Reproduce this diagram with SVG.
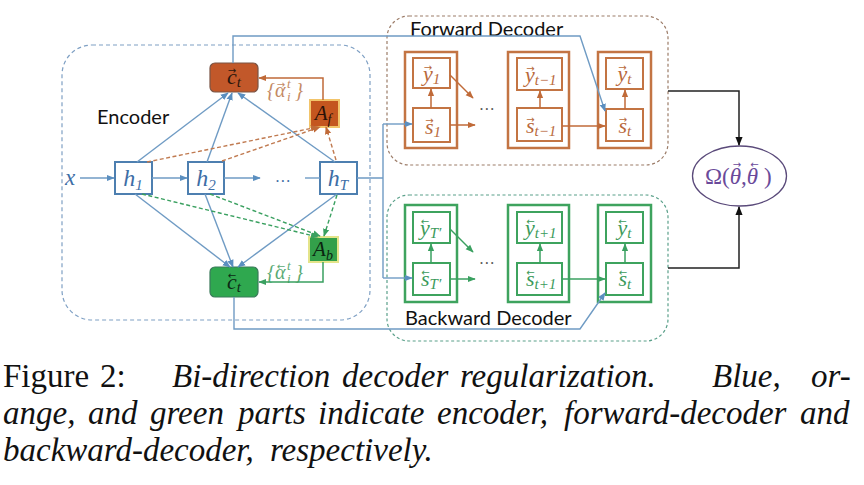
<svg xmlns="http://www.w3.org/2000/svg" width="864" height="485" viewBox="0 0 864 485">
<defs>
<style>
.m{font-family:"Liberation Serif","DejaVu Serif",serif;font-style:italic}
.up{font-style:normal}
.va{font-family:"DejaVu Sans",sans-serif;font-size:10px;text-anchor:middle;font-style:normal}
.lbl{font-family:Lato,"Liberation Sans",sans-serif;fill:#111;font-size:20px}
.cap{font-family:"Liberation Serif",serif;font-size:33px;fill:#111}
.it{font-style:italic}
.hb{fill:#fff;stroke:#4d7fb0;stroke-width:2}
.ht{fill:#3d6ea6;font-size:24px}
.sub{font-size:15px}
.ob{fill:none;stroke:#c37443;stroke-width:2.5}
.oi{fill:#fff;stroke:#c37443;stroke-width:2}
.ot{fill:#b9693b;font-size:22px}
.gb{fill:none;stroke:#3ea35e;stroke-width:2.5}
.gi{fill:#fff;stroke:#3ea35e;stroke-width:2}
.gt{fill:#3b9a5a;font-size:22px}
.bl{fill:none;stroke:#6f9bc4;stroke-width:1.4}
.ol{fill:none;stroke:#c06a38;stroke-width:1.5}
.od{fill:none;stroke:#c07a50;stroke-width:1.4;stroke-dasharray:4,2.5}
.gl{fill:none;stroke:#3aa060;stroke-width:1.5}
.gd{fill:none;stroke:#3aa060;stroke-width:1.4;stroke-dasharray:4,2.5}
.kl{fill:none;stroke:#222;stroke-width:1.5}
</style>
<marker id="ab" viewBox="0 0 10 10" refX="9" refY="5" markerWidth="8" markerHeight="8" markerUnits="userSpaceOnUse" orient="auto"><path d="M0,1 L10,5 L0,9 z" fill="#5b8fc0"/></marker>
<marker id="ao" viewBox="0 0 10 10" refX="9" refY="5" markerWidth="8" markerHeight="8" markerUnits="userSpaceOnUse" orient="auto"><path d="M0,1 L10,5 L0,9 z" fill="#c06a38"/></marker>
<marker id="ag" viewBox="0 0 10 10" refX="9" refY="5" markerWidth="8" markerHeight="8" markerUnits="userSpaceOnUse" orient="auto"><path d="M0,1 L10,5 L0,9 z" fill="#3aa060"/></marker>
<marker id="ak" viewBox="0 0 10 10" refX="9" refY="5" markerWidth="9" markerHeight="9" markerUnits="userSpaceOnUse" orient="auto"><path d="M0,1 L10,5 L0,9 z" fill="#111"/></marker>
</defs>
<rect width="864" height="485" fill="#fff"/>

<g id="encoder">
<rect x="62" y="45" width="308" height="275" rx="30" fill="none" stroke="#7fa0c4" stroke-width="1.2" stroke-dasharray="4,3"/>
<text class="lbl" x="97" y="124">Encoder</text>
<text class="m" x="65" y="185" font-size="23" fill="#3d6ea6">x</text>
<text class="m" x="283" y="182" font-size="16" fill="#3d6ea6" text-anchor="middle">…</text>
</g>

<g id="h1"><rect class="hb" x="115" y="162" width="37" height="32"/><text class="m ht" x="133" y="186" text-anchor="middle">h<tspan class="sub" dy="4">1</tspan></text></g>
<g id="h2"><rect class="hb" x="188" y="162" width="36" height="32"/><text class="m ht" x="206" y="186" text-anchor="middle">h<tspan class="sub" dy="4">2</tspan></text></g>
<g id="hT"><rect class="hb" x="320" y="162" width="37" height="32"/><text class="m ht" x="338" y="186" text-anchor="middle">h<tspan class="sub" dy="4">T</tspan></text></g>

<g id="c_fwd"><rect x="210" y="63" width="48" height="29" rx="5" fill="#c2582a" stroke="#7a5444" stroke-width="1.2"/><text class="m" x="227" y="84" font-size="22" fill="#2a160c">c<tspan font-size="15" dy="3">t</tspan></text><text class="va" x="232" y="73.5" fill="#2a160c">→</text></g>
<g id="c_bwd"><rect x="210" y="267" width="48" height="30" rx="5" fill="#2fa84f" stroke="#3a7a5a" stroke-width="1.2"/><text class="m" x="227" y="289" font-size="22" fill="#0c2a14">c<tspan font-size="15" dy="3">t</tspan></text><text class="va" x="232" y="278.5" fill="#0c2a14">←</text></g>

<g id="A_f"><rect x="310" y="100" width="29" height="27" fill="#c4561f" stroke="#f2c46a" stroke-width="2"/><text class="m" x="323" y="120" font-size="21" fill="#2a1208" text-anchor="middle">A<tspan font-size="14" dy="4">f</tspan></text></g>
<g id="A_b"><rect x="309" y="237" width="29" height="25" fill="#33a04a" stroke="#e4e48a" stroke-width="2"/><text class="m" x="323" y="256" font-size="21" fill="#0a2410" text-anchor="middle">A<tspan font-size="14" dy="4">b</tspan></text></g>

<g id="att_f"><text class="m" y="97" font-size="20" fill="#c48a64"><tspan x="267">{</tspan><tspan x="275">α</tspan><tspan x="287" dy="-9" font-size="13">t</tspan><tspan x="287" dy="13" font-size="13">i</tspan><tspan x="295" dy="-4">}</tspan></text><text class="va" x="281" y="88" fill="#c48a64">→</text></g>
<g id="att_b"><text class="m" y="279" font-size="20" fill="#5aaa74"><tspan x="267">{</tspan><tspan x="275">α</tspan><tspan x="287" dy="-9" font-size="13">t</tspan><tspan x="287" dy="13" font-size="13">i</tspan><tspan x="295" dy="-4">}</tspan></text><text class="va" x="281" y="270" fill="#5aaa74">←</text></g>

<g id="fwd_decoder">
<rect x="387" y="16" width="281" height="149" rx="22" fill="none" stroke="#9c7c68" stroke-width="1.2" stroke-dasharray="3,2.5"/>
<text class="lbl" x="410" y="36">Forward Decoder</text>
<rect class="ob" x="405" y="52" width="52" height="96"/>
<rect class="oi" x="413" y="58" width="37" height="30"/><text class="m ot" x="423" y="81">y<tspan class="sub" dy="3">1</tspan></text><text class="va" x="428" y="70.5" fill="#b9693b">→</text>
<rect class="oi" x="413" y="108" width="37" height="34"/><text class="m ot" x="425" y="134">s<tspan class="sub" dy="3">1</tspan></text><text class="va" x="429.5" y="123.5" fill="#b9693b">→</text>
<rect class="ob" x="508" y="52" width="61" height="96"/>
<rect class="oi" x="517" y="58" width="45" height="32"/><text class="m ot" x="525" y="82">y<tspan class="sub" dy="3">t−1</tspan></text><text class="va" x="530.5" y="71.5" fill="#b9693b">→</text>
<rect class="oi" x="517" y="108" width="45" height="33"/><text class="m ot" x="526" y="133">s<tspan class="sub" dy="3">t−1</tspan></text><text class="va" x="530.5" y="122.5" fill="#b9693b">→</text>
<rect class="ob" x="598" y="52" width="53" height="96"/>
<rect class="oi" x="606" y="58" width="37" height="31"/><text class="m ot" x="617.5" y="81">y<tspan class="sub" dy="3">t</tspan></text><text class="va" x="622.5" y="70.5" fill="#b9693b">→</text>
<rect class="oi" x="606" y="109" width="37" height="32"/><text class="m ot" x="618.5" y="133">s<tspan class="sub" dy="3">t</tspan></text><text class="va" x="623" y="122.5" fill="#b9693b">→</text>
<text class="m" x="487" y="110" font-size="16" fill="#555" text-anchor="middle">…</text>
</g>

<g id="bwd_decoder">
<rect x="387" y="195" width="281" height="146" rx="22" fill="none" stroke="#5aa08a" stroke-width="1.2" stroke-dasharray="3,2.5"/>
<text class="lbl" x="405" y="325">Backward Decoder</text>
<rect class="gb" x="405" y="205" width="52" height="97"/>
<rect class="gi" x="413" y="212" width="37" height="31"/><text class="m gt" x="420" y="235">y<tspan class="sub" dy="3">T′</tspan></text><text class="va" x="425" y="224.5" fill="#3b9a5a">←</text>
<rect class="gi" x="413" y="263" width="37" height="32"/><text class="m gt" x="421" y="286">s<tspan class="sub" dy="3">T′</tspan></text><text class="va" x="425.5" y="275.5" fill="#3b9a5a">←</text>
<rect class="gb" x="508" y="205" width="61" height="97"/>
<rect class="gi" x="517" y="212" width="45" height="31"/><text class="m gt" x="525" y="235">y<tspan class="sub" dy="3">t+1</tspan></text><text class="va" x="530.5" y="224.5" fill="#3b9a5a">←</text>
<rect class="gi" x="517" y="263" width="45" height="32"/><text class="m gt" x="526" y="286">s<tspan class="sub" dy="3">t+1</tspan></text><text class="va" x="530.5" y="275.5" fill="#3b9a5a">←</text>
<rect class="gb" x="598" y="205" width="53" height="97"/>
<rect class="gi" x="606" y="212" width="37" height="31"/><text class="m gt" x="617.5" y="235">y<tspan class="sub" dy="3">t</tspan></text><text class="va" x="622.5" y="224.5" fill="#3b9a5a">←</text>
<rect class="gi" x="606" y="263" width="37" height="32"/><text class="m gt" x="618.5" y="286">s<tspan class="sub" dy="3">t</tspan></text><text class="va" x="623" y="275.5" fill="#3b9a5a">←</text>
<text class="m" x="487" y="264" font-size="16" fill="#555" text-anchor="middle">…</text>
</g>

<g id="omega">
<ellipse cx="739.5" cy="176" rx="47" ry="30" fill="#fff" stroke="#5a4a7a" stroke-width="1.3"/>
<text class="m up" x="705" y="184" font-size="23" fill="#6a4a9a">Ω(<tspan class="it">θ</tspan>,<tspan class="it">θ</tspan> )</text>
<text class="va" x="737" y="168" fill="#6a4a9a">→</text>
<text class="va" x="754.5" y="168" fill="#6a4a9a">←</text>
</g>

<g id="connectors">
<path class="bl" d="M80,178 H114" marker-end="url(#ab)"/>
<path class="bl" d="M152,178 H187" marker-end="url(#ab)"/>
<path class="bl" d="M224,178 H260" marker-end="url(#ab)"/>
<path class="bl" d="M305,178 H320"/>
<path class="bl" d="M357,178 H383 M383,124 V278"/>
<path class="bl" d="M383,124 H412" marker-end="url(#ab)"/>
<path class="bl" d="M383,278 H412" marker-end="url(#ab)"/>
<path class="bl" d="M233,63 V36 H580 L605,111" marker-end="url(#ab)"/>
<path class="bl" d="M234,297 V329 H580 L605,293" marker-end="url(#ab)"/>
<path class="bl" d="M137,162 L228,93" marker-end="url(#ab)"/>
<path class="bl" d="M207,162 L232,93" marker-end="url(#ab)"/>
<path class="bl" d="M335,162 L238,93" marker-end="url(#ab)"/>
<path class="bl" d="M135,194 L230,267" marker-end="url(#ab)"/>
<path class="bl" d="M205,194 L233,267" marker-end="url(#ab)"/>
<path class="bl" d="M337,194 L238,267" marker-end="url(#ab)"/>
<path class="od" d="M147,162 L318,127" marker-end="url(#ao)"/>
<path class="od" d="M222,161 L320,127" marker-end="url(#ao)"/>
<path class="od" d="M336,160 L326,127" marker-end="url(#ao)"/>
<path class="gd" d="M142,194 L318,237" marker-end="url(#ag)"/>
<path class="gd" d="M210,194 L320,236" marker-end="url(#ag)"/>
<path class="gd" d="M337,195 L324,236" marker-end="url(#ag)"/>
<path class="ol" d="M323,100 V78 H259" marker-end="url(#ao)"/>
<path class="gl" d="M323,262 V282 H259" marker-end="url(#ag)"/>
<path class="ol" d="M431,108 V89" marker-end="url(#ao)"/>
<path class="ol" d="M450,75 L473,98" marker-end="url(#ao)"/>
<path class="ol" d="M450,125 H475" marker-end="url(#ao)"/>
<path class="ol" d="M540,108 V91" marker-end="url(#ao)"/>
<path class="ol" d="M562,126 H605" marker-end="url(#ao)"/>
<path class="ol" d="M625,109 V90" marker-end="url(#ao)"/>
<path class="gl" d="M431,263 V244" marker-end="url(#ag)"/>
<path class="gl" d="M450,229 L473,252" marker-end="url(#ag)"/>
<path class="gl" d="M450,279 H475" marker-end="url(#ag)"/>
<path class="gl" d="M540,263 V244" marker-end="url(#ag)"/>
<path class="gl" d="M562,279 H605" marker-end="url(#ag)"/>
<path class="gl" d="M625,263 V244" marker-end="url(#ag)"/>
<path class="kl" d="M668,91 H739 V145" marker-end="url(#ak)"/>
<path class="kl" d="M668,268 H739 V207" marker-end="url(#ak)"/>
</g>

<g id="caption">
<text class="cap" y="387"><tspan x="3">Figure</tspan><tspan x="100">2:</tspan><tspan class="it" x="172">Bi-direction</tspan><tspan class="it" x="342">decoder</tspan><tspan class="it" x="460">regularization.</tspan><tspan class="it" x="712">Blue,</tspan><tspan class="it" x="811">or-</tspan></text>
<text class="cap it" y="424"><tspan x="3">ange,</tspan><tspan x="88">and</tspan><tspan x="150">green</tspan><tspan x="238">parts</tspan><tspan x="318">indicate</tspan><tspan x="437">encoder,</tspan><tspan x="564">forward-decoder</tspan><tspan x="800">and</tspan></text>
<text class="cap it" y="461"><tspan x="3">backward-decoder,</tspan><tspan x="270">respectively.</tspan></text>
</g>
</svg>
